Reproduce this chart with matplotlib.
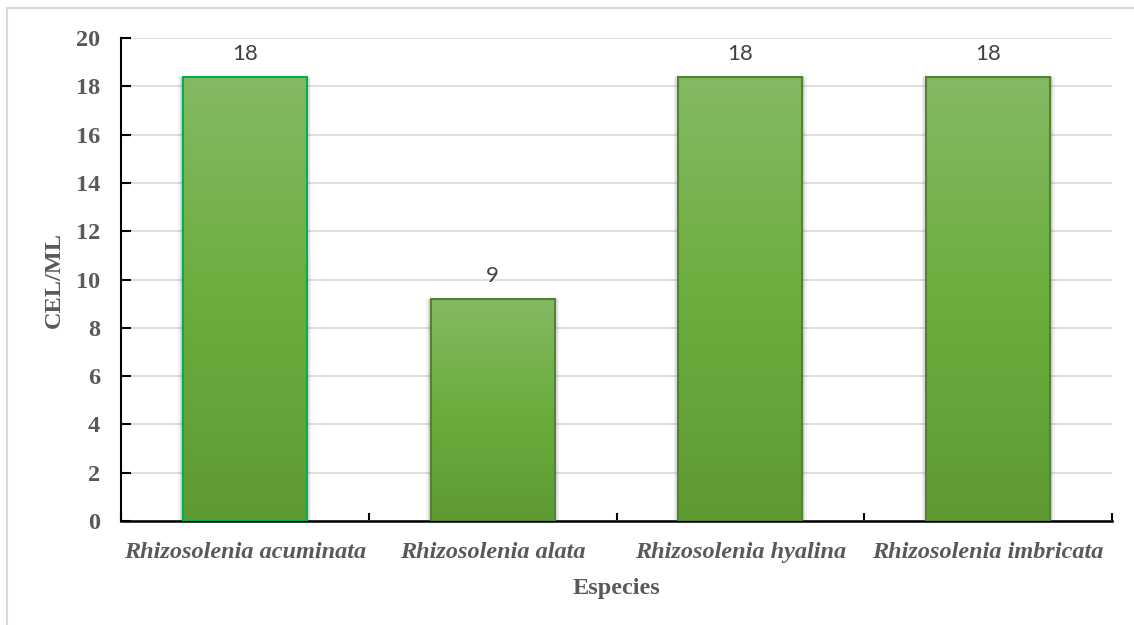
import numpy as np
import matplotlib.pyplot as plt
from matplotlib.patches import Rectangle
from matplotlib.colors import LinearSegmentedColormap

# cell density per species
species = ['Rhizosolenia acuminata', 'Rhizosolenia alata',
           'Rhizosolenia hyalina', 'Rhizosolenia imbricata']
cel_ml = [18.4, 9.2, 18.4, 18.4]
yticks = [0, 2, 4, 6, 8, 10, 12, 14, 16, 18, 20]

fig = plt.figure(figsize=(11.34, 6.25), dpi=100)
# light frame around the chart area
fig.patches.append(Rectangle((7 / 1134, -0.05), 1.2, 1 - 8 / 625 + 0.05,
                             transform=fig.transFigure, fill=False,
                             edgecolor='#d9d9d9', linewidth=1.5))
ax = fig.add_axes([121 / 1134, 1 - 521 / 625, (1112 - 121) / 1134, (521 - 38) / 625])

x = np.arange(len(species))
width = 0.5
edges = ['#00b050', '#548235', '#548235', '#548235']

# soft shadow behind the bars
for grow, a in [(0.03, 0.05), (0.02, 0.07), (0.01, 0.09)]:
    ax.bar(x, cel_ml, width + grow * 1.2, color='black', alpha=a, zorder=2,
           linewidth=0)

bars = ax.bar(x, cel_ml, width, color='none', edgecolor=edges, linewidth=1.5,
              zorder=4)

# vertical green gradient inside every bar
cmap = LinearSegmentedColormap.from_list('g', ['#5e9b33', '#6bad3e', '#85ba63'])
grad = np.linspace(0, 1, 256).reshape(-1, 1)
for b in bars:
    bx, by = b.get_x(), b.get_y()
    im = ax.imshow(grad, cmap=cmap, origin='lower', aspect='auto',
                   extent=[bx, bx + b.get_width(), by, by + b.get_height()],
                   zorder=3)
    im.set_clip_path(b)

for xi, v in zip(x, cel_ml):
    ax.annotate('%.0f' % v, (xi, v), xytext=(0, 9), textcoords='offset points',
                ha='center', va='bottom', fontsize=16, color='#404040',
                family='Lato')

serif = dict(family='Liberation Serif', fontweight='bold', color='#595959')

ax.set_xlim(-0.5, len(species) - 0.5)
ax.set_ylim(0, 20)
ax.set_yticks(yticks)
ax.grid(axis='y', color='#d9d9d9', linewidth=1.2, zorder=0)
ax.set_axisbelow(True)

ax.set_xticks(x)
ax.set_xticks(np.arange(-0.5, len(species)), minor=True)
ax.set_xticklabels(species, fontsize=17.5, style='italic', **serif)
ax.tick_params(axis='x', which='both', direction='in', length=6, width=1.5,
               pad=15, color='black')
ax.tick_params(axis='y', direction='in', length=7, width=1.5, pad=15,
               labelsize=17.5, labelcolor='#595959')
for t in ax.get_yticklabels():
    t.set_family('Liberation Serif')
    t.set_fontweight('bold')

for s in ['top', 'right']:
    ax.spines[s].set_visible(False)
ax.spines['left'].set_linewidth(1.5)
ax.spines['bottom'].set_linewidth(1.8)

ax.set_ylabel('CEL/ML', fontsize=17.5, labelpad=8, **serif)
ax.set_xlabel('Especies', fontsize=17.5, labelpad=11, **serif)

fig.savefig('out.png', dpi=100)
